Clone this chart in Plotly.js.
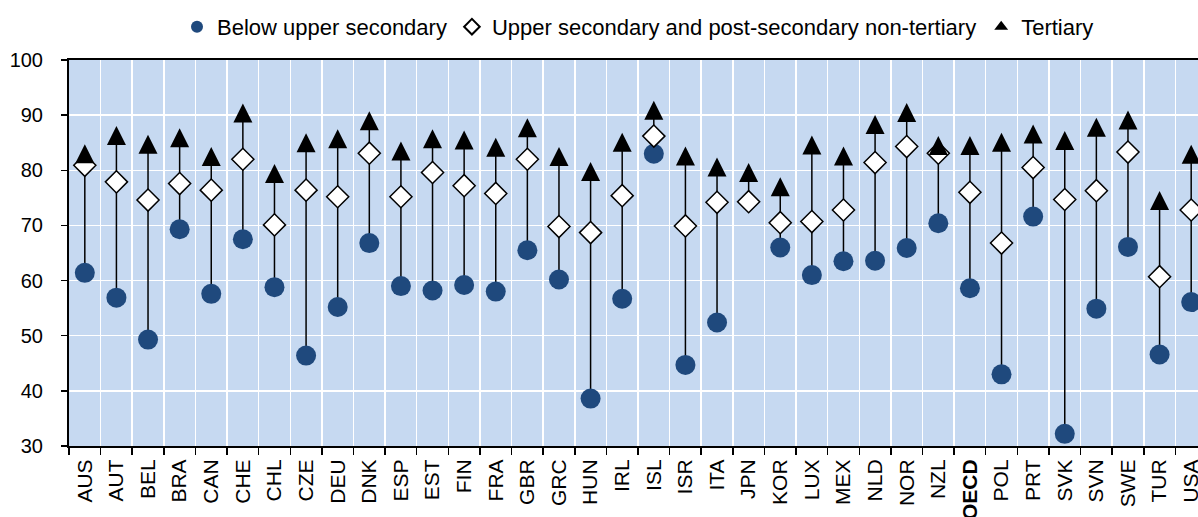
<!DOCTYPE html>
<html>
<head>
<meta charset="utf-8">
<script src="https://cdn.plot.ly/plotly-3.0.1.min.js"></script>
<style>
html, body { margin: 0; padding: 0; overflow: hidden; background: #ffffff; }
#chart { width: 1210px; height: 517px; }
</style>
</head>
<body>
<div id="chart"></div>
<script>
const countries = ["AUS","AUT","BEL","BRA","CAN","CHE","CHL","CZE","DEU","DNK","ESP","EST","FIN","FRA","GBR","GRC","HUN","IRL","ISL","ISR","ITA","JPN","KOR","LUX","MEX","NLD","NOR","NZL","OECD","POL","PRT","SVK","SVN","SWE","TUR","USA"];
const belowUpperSecondary = [61.4,56.9,49.3,69.3,57.6,67.5,58.8,46.4,55.2,66.8,59.0,58.2,59.2,58.0,65.5,60.2,38.6,56.7,83.0,44.7,52.4,null,66.0,61.0,63.5,63.6,65.9,70.4,58.6,43.0,71.6,32.2,54.9,66.1,46.6,56.1];
const upperSecondary = [80.9,77.9,74.6,77.6,76.4,82.0,70.1,76.4,75.2,83.1,75.2,79.6,77.2,75.8,82.0,69.8,68.7,75.4,86.2,69.9,74.2,74.3,70.5,70.7,72.8,81.4,84.3,83.1,76.0,66.8,80.5,74.7,76.3,83.3,60.7,72.8];
const tertiary = [83.0,86.3,84.7,85.9,82.5,90.4,79.4,85.0,85.7,89.0,83.5,85.7,85.5,84.2,87.7,82.5,79.8,85.1,90.9,82.6,80.6,79.6,77.0,84.6,82.6,88.3,90.5,84.5,84.5,85.1,86.6,85.4,87.8,89.1,74.5,82.9];
const seriesNames = ["Below upper secondary","Upper secondary and post-secondary non-tertiary","Tertiary"];
const yTicks = [30,40,50,60,70,80,90,100];

// connector segments built from the data (min to max per country)
const segX = [], segY = [];
countries.forEach((c, i) => {
  const vals = [belowUpperSecondary[i], upperSecondary[i], tertiary[i]].filter(v => v !== null);
  segX.push(c, c, null);
  segY.push(Math.min(...vals), Math.max(...vals), null);
});

const tickText = countries.map(c => c === "OECD" ? "<b>OECD</b>" : c);

const traces = [
  { x: segX, y: segY, mode: "lines", type: "scatter", line: {color: "#000000", width: 1.5},
    showlegend: false, hoverinfo: "skip" },
  { x: countries, y: belowUpperSecondary, name: seriesNames[0], mode: "markers", type: "scatter",
    marker: {symbol: "circle", size: 20, color: "#1F497D", line: {color: "#1F497D", width: 0}} },
  { x: countries, y: upperSecondary, name: seriesNames[1], mode: "markers", type: "scatter",
    marker: {symbol: "diamond", size: 17, color: "#FFFFFF", line: {color: "#000000", width: 1.5}} },
  { x: countries, y: tertiary, name: seriesNames[2], mode: "markers", type: "scatter",
    marker: {symbol: "triangle-up", size: 18, color: "#000000", line: {color: "#000000", width: 0}} }
];

const layout = {
  width: 1210, height: 517,
  margin: {l: 69, r: 3, t: 60, b: 71, pad: 0},
  paper_bgcolor: "#FFFFFF",
  plot_bgcolor: "#C6D9F1",
  font: {family: "Liberation Sans, Arial, sans-serif", size: 19, color: "#000000"},
  showlegend: true,
  legend: {orientation: "h", x: 0.5, xanchor: "center", yref: "container", y: 0.948, yanchor: "middle",
           font: {size: 22}, itemsizing: "constant", bgcolor: "rgba(0,0,0,0)"},
  xaxis: {type: "category", categoryorder: "array", categoryarray: countries,
          tickmode: "array", tickvals: countries, ticktext: tickText,
          tickson: "boundaries", ticks: "outside", ticklen: 7, tickwidth: 1.5, tickcolor: "#000000",
          tickangle: -90, tickfont: {size: 21}, ticklabelstandoff: 3,
          showgrid: true, gridcolor: "#FFFFFF", gridwidth: 1.5,
          showline: true, linecolor: "#000000", linewidth: 2, mirror: true,
          range: [-0.5, 35.5], automargin: false, zeroline: false, fixedrange: true},
  yaxis: {range: [30, 100], tickmode: "array", tickvals: yTicks, ticktext: yTicks.map(String),
          ticks: "outside", ticklen: 6, tickwidth: 1.5, tickcolor: "#000000", ticklabelstandoff: 14,
          tickfont: {size: 20},
          showgrid: true, gridcolor: "#FFFFFF", gridwidth: 1.5,
          showline: true, linecolor: "#000000", linewidth: 2, mirror: true,
          zeroline: false, automargin: false, fixedrange: true}
};

Plotly.newPlot("chart", traces, layout, {displayModeBar: false, staticPlot: true}).then(gd => {
  // reshape the tertiary markers into taller triangles centred on their data points
  const layers = gd.querySelectorAll(".scatterlayer .trace");
  const triLayer = layers[3];
  if (triLayer) {
    triLayer.querySelectorAll("path.point").forEach(p => p.setAttribute("d", "M-9.5,9.5H9.5L0,-9.5Z"));
  }
});
</script>
</body>
</html>
